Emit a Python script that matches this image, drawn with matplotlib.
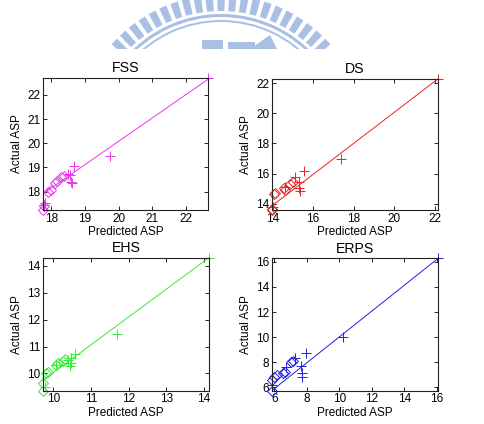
import numpy as np
import matplotlib
matplotlib.use("Agg")
import matplotlib.pyplot as plt
from matplotlib.patches import Wedge, Rectangle, Polygon


plt.rcParams['font.family'] = ['Liberation Sans', 'DejaVu Sans']
plt.rcParams['font.size'] = 8.5

# panel names and colours
titles = ["FSS", "DS", "EHS", "ERPS"]
colors = ["#ee33ee", "#ee2222", "#33ee33", "#2222dd"]

# '+' series: predicted / actual ASP
fss_plus_pred = [22.65, 19.74, 18.67, 18.50, 18.56, 18.60, 18.63, 17.82, 17.80]
fss_plus_act = [22.70, 19.48, 19.05, 18.73, 18.68, 18.40, 18.35, 17.52, 17.45]
ds_plus_pred = [22.16, 17.39, 15.55, 15.13, 15.29, 15.29, 15.38, 14.64, 14.04]
ds_plus_act = [22.28, 16.98, 16.18, 15.81, 15.45, 15.04, 14.82, 15.14, 13.82]
ehs_plus_pred = [14.14, 11.70, 10.59, 10.48, 10.39, 10.48, 10.45, 10.08, 9.77]
ehs_plus_act = [14.30, 11.48, 10.72, 10.59, 10.49, 10.37, 10.27, 10.33, 9.50]
erps_plus_pred = [16.06, 10.22, 7.93, 7.30, 6.72, 7.62, 7.68, 7.68, 5.88]
erps_plus_act = [16.27, 9.98, 8.70, 8.35, 7.64, 7.70, 7.15, 6.84, 6.15]

# diamond series
fss_dia_pred = [18.38, 18.30, 18.18, 18.10, 17.98, 17.92, 17.78, 17.76]
fss_dia_act = [18.65, 18.60, 18.42, 18.35, 18.05, 18.00, 17.38, 17.24]
ds_dia_pred = [15.00, 14.89, 14.56, 14.60, 14.15, 14.10, 13.98, 13.98]
ds_dia_act = [15.45, 15.32, 15.02, 14.90, 14.70, 14.62, 13.66, 13.60]
ehs_dia_pred = [10.30, 10.25, 10.12, 10.08, 9.86, 9.82, 9.73, 9.73]
ehs_dia_act = [10.55, 10.48, 10.37, 10.30, 10.06, 10.00, 9.63, 9.36]
erps_dia_pred = [7.15, 7.05, 6.64, 6.55, 6.15, 6.00, 5.88, 5.86]
erps_dia_act = [8.10, 8.00, 7.25, 7.15, 6.95, 6.80, 6.58, 5.73]

# fitted line end points
fss_fit_x = [17.78, 22.65]
fss_fit_y = [17.93, 22.65]
ds_fit_x = [14.00, 22.16]
ds_fit_y = [13.89, 22.28]
ehs_fit_x = [9.73, 14.14]
ehs_fit_y = [9.75, 14.30]
erps_fit_x = [5.90, 16.06]
erps_fit_y = [5.79, 16.27]

# tick positions
fss_ticks = [18, 19, 20, 21, 22]
ds_ticks = [14, 16, 18, 20, 22]
ehs_ticks = [10, 11, 12, 13, 14]
erps_ticks = [6, 8, 10, 12, 14, 16]

panels = [
    (fss_plus_pred, fss_plus_act, fss_dia_pred, fss_dia_act, fss_fit_x, fss_fit_y, fss_ticks),
    (ds_plus_pred, ds_plus_act, ds_dia_pred, ds_dia_act, ds_fit_x, ds_fit_y, ds_ticks),
    (ehs_plus_pred, ehs_plus_act, ehs_dia_pred, ehs_dia_act, ehs_fit_x, ehs_fit_y, ehs_ticks),
    (erps_plus_pred, erps_plus_act, erps_dia_pred, erps_dia_act, erps_fit_x, erps_fit_y, erps_ticks),
]

# axes rectangles in figure fractions (left, bottom, width, height)
rects = [
    (0.089, 0.505, 0.341, 0.311),
    (0.562, 0.505, 0.343, 0.309),
    (0.089, 0.0785, 0.343, 0.314),
    (0.562, 0.0785, 0.343, 0.312),
]

fig = plt.figure(figsize=(4.84, 4.24), dpi=100)

# faint logo watermark at the top, drawn in pixel coordinates
wm = fig.add_axes([0, 0, 1, 1], zorder=-5)
wm.set_xlim(0, 484)
wm.set_ylim(424, 0)
wm.axis("off")
wm_col = "#a9c0e4"
clip = Rectangle((0, 0), 484, 49, transform=wm.transData)
cx, cy = 221, 141
for ang in np.linspace(43, 137, 21):
    w = Wedge((cx, cy), 146, -ang - 1.5, -ang + 1.5, width=16, color=wm_col, lw=0)
    wm.add_patch(w)
    w.set_clip_path(clip)
for r, wd in [(127, 3), (121, 2)]:
    w = Wedge((cx, cy), r, -140, -40, width=wd, color=wm_col, lw=0)
    wm.add_patch(w)
    w.set_clip_path(clip)
wm.add_patch(Rectangle((202, 40), 21, 9, color=wm_col, lw=0))
wm.add_patch(Rectangle((228, 42), 27, 7, color=wm_col, lw=0))
wm.add_patch(Polygon([(250, 49), (270, 35), (277, 49)], color=wm_col, lw=0))

for i, (title, col, p) in enumerate(zip(titles, colors, panels)):
    px, py, dx, dy, fx, fy, ticks = p
    ax = fig.add_axes(rects[i])
    ax.plot(fx, fy, color=col, lw=0.7)
    ax.plot(px, py, '+', color=col, ms=6.5, mew=0.7, ls='none')
    ax.plot(dx, dy, 'D', color=col, ms=5, mew=0.7, mfc='none', ls='none')
    allx = px + dx
    ally = py + dy
    ax.set_xlim(min(allx), max(allx))
    ax.set_ylim(min(ally), max(ally))
    ax.set_xticks(ticks)
    ax.set_yticks(ticks)
    ax.tick_params(direction='in', length=3, width=0.6, top=True, right=True, pad=2)
    for s in ax.spines.values():
        s.set_linewidth(0.8)
        s.set_color('#222222')
    for c in ax.collections + ax.lines:
        c.set_clip_on(False)
    ax.set_title(title, pad=4)
    ax.set_xlabel("Predicted ASP", labelpad=1)
    ax.set_ylabel("Actual ASP", labelpad=3)

fig.savefig("out.png", dpi=100)
